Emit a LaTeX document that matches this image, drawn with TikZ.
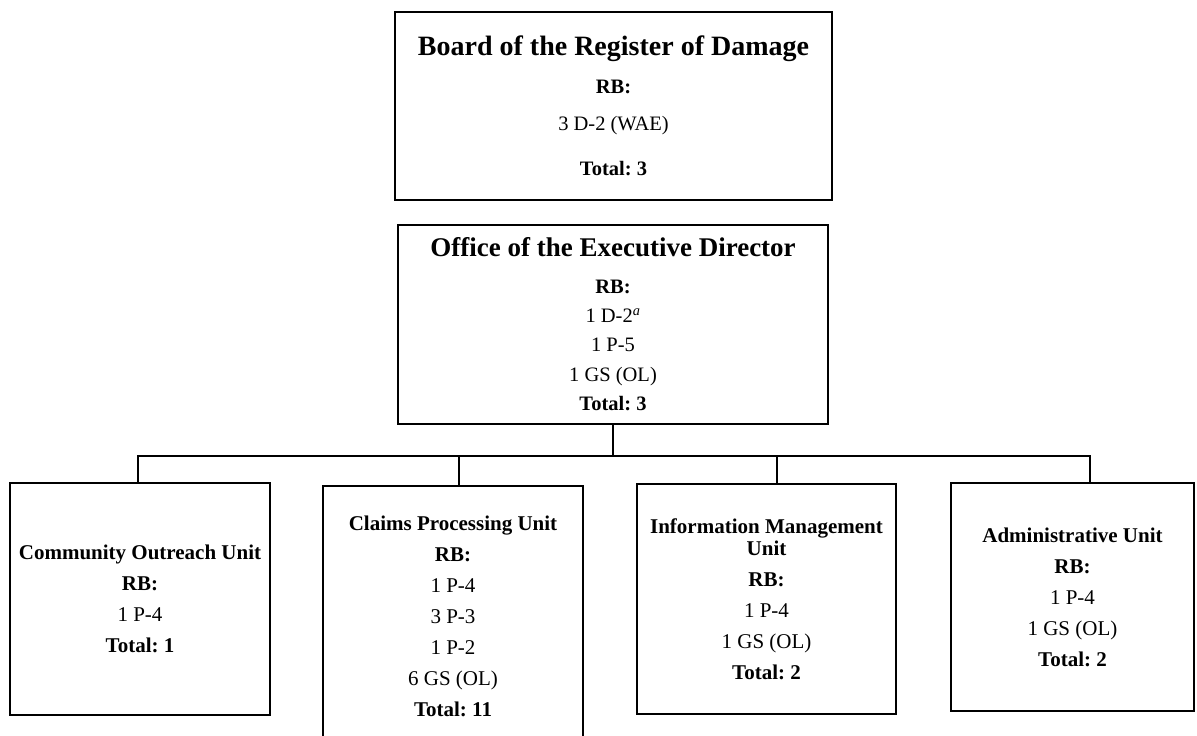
\documentclass[tikz,border=0pt]{standalone}
\usepackage{fontspec}
\setmainfont{Liberation Serif}
\frenchspacing

\begin{document}
\begin{tikzpicture}[x=1pt,y=-1pt,line width=1.3pt,
  box/.style={draw,line width=2.4pt,align=center,inner sep=0pt,
    font=\fontsize{21}{31}\selectfont},
  toptitle/.style={font=\fontsize{20.5}{28}\selectfont}]
\clip (0,0) rectangle (1197,736);
% 董事会
\node[box,toptitle,minimum width=437pt,minimum height=188pt] (board) at (613.5,106)
  {{\fontsize{28}{30}\selectfont\bfseries Board of the Register of Damage}\\[10pt]
   \textbf{RB:}\\[9pt]
   3 D-2 (WAE)\\[17pt]
   \textbf{Total: 3}};
% 执行主任办公室
\node[box,toptitle,minimum width=430pt,minimum height=199pt] (office) at (613,324.5)
  {{\fontsize{27}{30}\selectfont\bfseries Office of the Executive Director}\\[9pt]
   \textbf{RB:}\\[1pt]
   1 D-2\textsuperscript{\textit{a}}\\[1pt]
   1 P-5\\[2pt]
   1 GS (OL)\\[1pt]
   \textbf{Total: 3}};
% 下属各股
\node[box,minimum width=260pt,minimum height=232pt] (outreach) at (140,599)
  {\textbf{Community Outreach Unit}\\ \textbf{RB:}\\ 1 P-4\\ \textbf{Total: 1}};
\node[box,minimum width=260pt,minimum height=260pt] (claims) at (453,616)
  {\textbf{Claims Processing Unit}\\ \textbf{RB:}\\ 1 P-4\\ 3 P-3\\ 1 P-2\\
   6 GS (OL)\\ \textbf{Total: 11}};
\node[box,minimum width=259pt,minimum height=230pt] (info) at (766.5,599)
  {\textbf{Information Management}\\[-9pt] \textbf{Unit}\\ \textbf{RB:}\\ 1 P-4\\
   1 GS (OL)\\ \textbf{Total: 2}};
\node[box,minimum width=243pt,minimum height=228pt] (admin) at (1072.5,597)
  {\textbf{Administrative Unit}\\ \textbf{RB:}\\ 1 P-4\\ 1 GS (OL)\\ \textbf{Total: 2}};
% 连线
\coordinate (bus) at (614,456);
\draw (office.south) -- (office.south |- bus);
\draw ([xshift=-2pt]outreach.north) |- ([xshift=17.5pt]admin.north |- bus)
  -- ([xshift=17.5pt]admin.north);
\draw ([xshift=6pt]claims.north) -- ([xshift=6pt]claims.north |- bus);
\draw ([xshift=10.5pt]info.north) -- ([xshift=10.5pt]info.north |- bus);
\end{tikzpicture}
\end{document}
